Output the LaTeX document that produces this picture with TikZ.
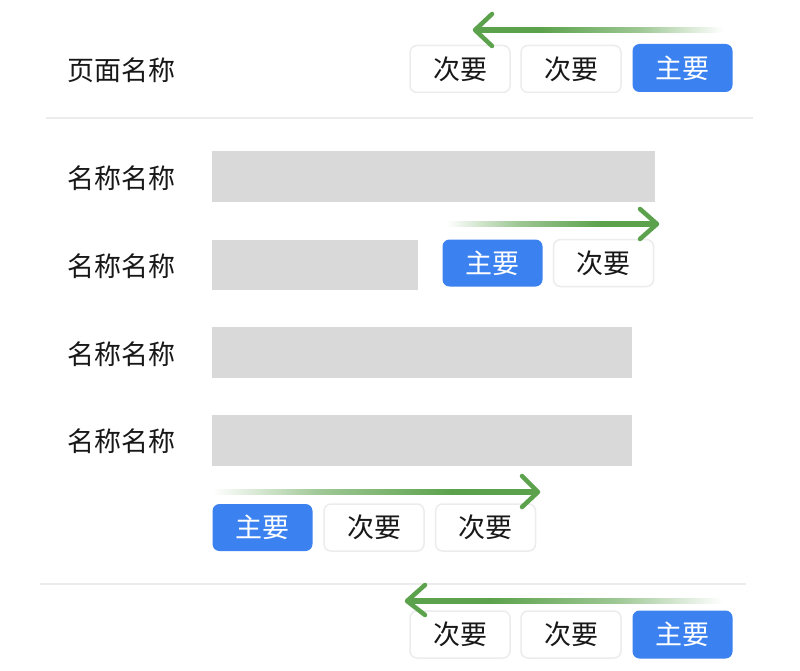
\documentclass[tikz,border=0pt]{standalone}
\usepackage{fontspec}
\setmainfont{Noto Sans CJK SC}
\usetikzlibrary{calc}
\definecolor{btnblue}{RGB}{59,130,240}
\definecolor{arrgreen}{RGB}{92,162,76}
\definecolor{bargray}{RGB}{217,217,217}
\definecolor{sepgray}{RGB}{236,236,236}
\definecolor{btnborder}{RGB}{236,236,236}
\definecolor{txt}{RGB}{24,24,24}
\pgfdeclarehorizontalshading{fadeleft}{100bp}{color(0bp)=(arrgreen); color(25bp)=(arrgreen); color(38bp)=(arrgreen); color(58bp)=(arrgreen!60!white); color(75bp)=(white); color(100bp)=(white)}
\pgfdeclarehorizontalshading{faderight}{100bp}{color(0bp)=(white); color(25bp)=(white); color(42bp)=(arrgreen!60!white); color(62bp)=(arrgreen); color(75bp)=(arrgreen); color(100bp)=(arrgreen)}
\tikzset{
  btnbase/.style={rounded corners=7pt, minimum width=100pt, minimum height=47pt, inner sep=0pt, font=\fontsize{27}{32}\selectfont},
  primbtn/.style={btnbase, fill=btnblue, text=white},
  secbtn/.style={btnbase, fill=white, draw=btnborder, line width=1.5pt, text=txt},
  lbl/.style={anchor=west, inner sep=0pt, text=txt, font=\fontsize{27}{32}\selectfont},
  barbox/.style={fill=bargray, draw=none},
  sepline/.style={draw=sepgray, line width=2pt},
  chev/.style={draw=arrgreen, line width=4.5pt, line cap=round, line join=round}
}
\begin{document}
\begin{tikzpicture}[x=1pt,y=-1pt]
\useasboundingbox[fill=white] (0,0) rectangle (800,671);

% header
\node[lbl] (title) at (67,70) {页面名称};
\node[secbtn] (tb1) at (460,69) {次要};
\node[secbtn] (tb2) at (571,69) {次要};
\node[primbtn, minimum height=48pt] (tb3) at (682.5,68) {主要};

\coordinate (s1a) at (46,118); \coordinate (s1b) at (753,118);
\draw[sepline] (s1a) -- (s1b);

% rows
\node[lbl] (l1) at (67,178) {名称名称};
\node[lbl] (l2) at (67,266) {名称名称};
\node[lbl] (l3) at (67,354) {名称名称};
\node[lbl] (l4) at (67,441) {名称名称};

\coordinate (b1a) at (212,151); \coordinate (b1b) at (655,202);
\coordinate (b2a) at (212,240); \coordinate (b2b) at (418,290);
\coordinate (b3a) at (212,327); \coordinate (b3b) at (632,378);
\coordinate (b4a) at (212,415); \coordinate (b4b) at (632,466);
\fill[barbox] (b1a) rectangle (b1b);
\fill[barbox] (b2a) rectangle (b2b);
\fill[barbox] (b3a) rectangle (b3b);
\fill[barbox] (b4a) rectangle (b4b);

\node[primbtn] (rb1) at (492.5,263) {主要};
\node[secbtn] (rb2) at (603.5,263) {次要};

\node[primbtn] (gb1) at (262.5,527.5) {主要};
\node[secbtn] (gb2) at (374,527.5) {次要};
\node[secbtn] (gb3) at (485.5,527.5) {次要};

\coordinate (s2a) at (40,584); \coordinate (s2b) at (746,584);
\draw[sepline] (s2a) -- (s2b);

\node[secbtn] (fb1) at (460,634.5) {次要};
\node[secbtn] (fb2) at (571,634.5) {次要};
\node[primbtn, minimum height=48pt] (fb3) at (682.5,634.5) {主要};

% arrows
% top: pointing left
\coordinate (a1tip) at (475,30); \coordinate (a1tail) at (723,30);
\shade[shading=fadeleft] ($(a1tip)+(2,-2.2)$) rectangle ($(a1tail)+(0,2.2)$);
\draw[chev] (492,14) -- (a1tip) -- (492,46);

% row 2: pointing right
\coordinate (a2tip) at (657,224); \coordinate (a2tail) at (447,224);
\shade[shading=faderight] ($(a2tail)+(0,-2.2)$) rectangle ($(a2tip)+(-2,2.2)$);
\draw[chev] (640,209) -- (a2tip) -- (640,239);

% group: pointing right
\coordinate (a3tip) at (538,492); \coordinate (a3tail) at (212,492);
\shade[shading=faderight] ($(a3tail)+(0,-2.2)$) rectangle ($(a3tip)+(-2,2.2)$);
\draw[chev] (522,476) -- (a3tip) -- (522,507);

% bottom: pointing left
\coordinate (a4tip) at (407,601); \coordinate (a4tail) at (723,601);
\shade[shading=fadeleft] ($(a4tip)+(2,-2.2)$) rectangle ($(a4tail)+(0,2.2)$);
\draw[chev] (425,585) -- (a4tip) -- (425,615);
\end{tikzpicture}
\end{document}
